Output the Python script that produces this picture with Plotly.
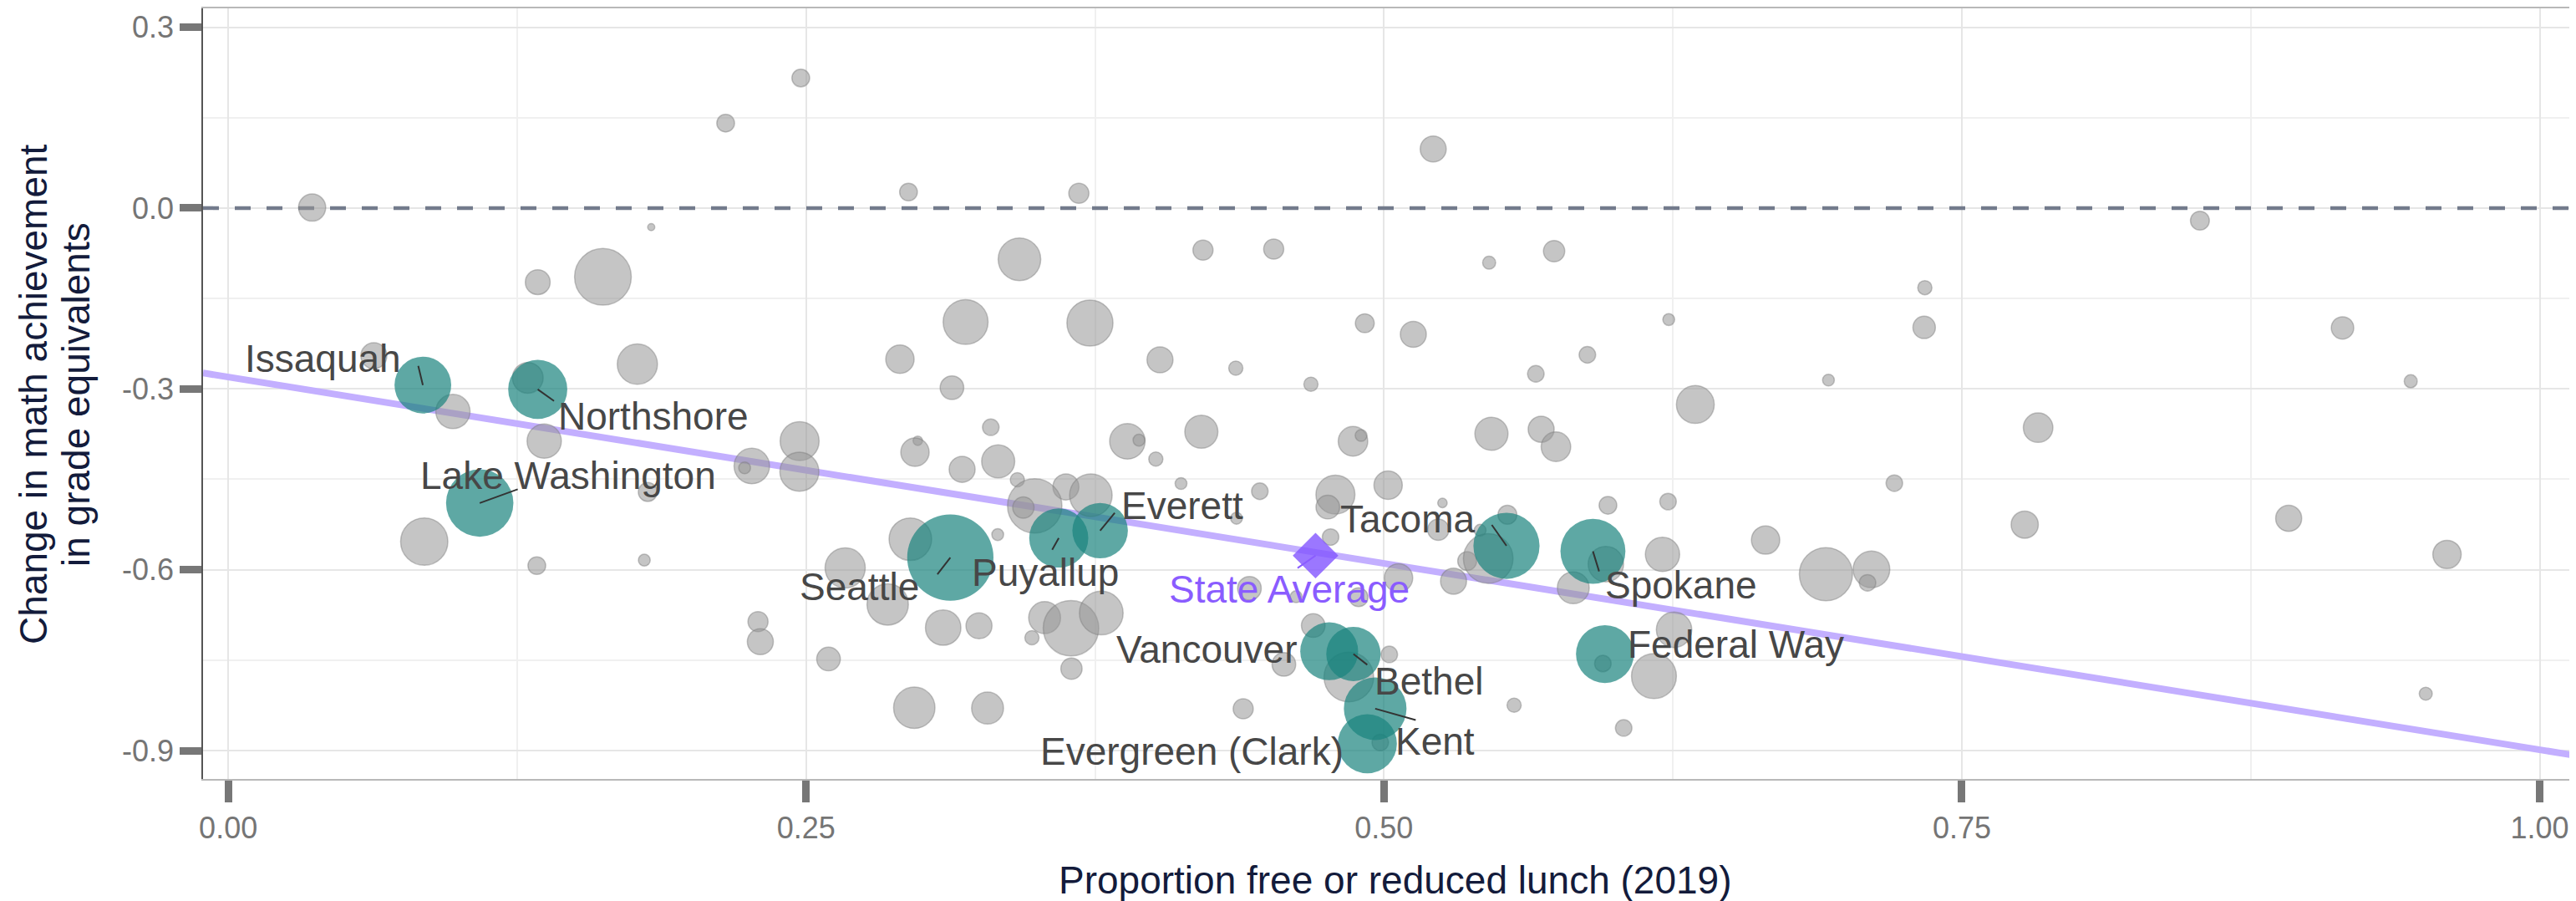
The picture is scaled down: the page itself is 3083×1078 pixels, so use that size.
import plotly.graph_objects as go

# ---------------- data ----------------
# grey districts: proportion FRL, change in grade equivalents, enrollment (thousands)
frl = [0.0363, 0.183, 0.1621, 0.1339, 0.0630, 0.0972, 0.1296, 0.177, 0.1367, 0.0848,
       0.1335, 0.1800, 0.1815, 0.2152, 0.2477, 0.2943, 0.368, 0.5213, 0.3423, 0.4217,
       0.4523, 0.5455, 0.5736, 0.319, 0.3728, 0.4917, 0.5127, 0.2906, 0.4031, 0.4359,
       0.4684, 0.5657, 0.588, 0.3131, 0.3299, 0.2472, 0.2983, 0.389, 0.394, 0.421,
       0.4866, 0.4901, 0.5465, 0.568, 0.5744, 0.2971, 0.3331, 0.3175, 0.3414, 0.4013,
       0.4122, 0.4463, 0.2471, 0.2265, 0.2234, 0.3624, 0.3732, 0.3489, 0.344, 0.4362,
       0.2951, 0.3329, 0.2669, 0.2853, 0.2292, 0.2302, 0.2597, 0.3093, 0.3248, 0.3532,
       0.3646, 0.3777, 0.3477, 0.3648, 0.2968, 0.3285, 0.4391, 0.4694, 0.4567, 0.4418,
       0.462, 0.6923, 0.6347, 0.5018, 0.479, 0.4757, 0.4769, 0.5253, 0.5534, 0.5235,
       0.5416, 0.536, 0.5451, 0.5969, 0.6229, 0.7208, 0.6651, 0.6205, 0.596, 0.5819,
       0.6912, 0.7109, 0.7092, 0.5301, 0.5063, 0.489, 0.4848, 0.5023, 0.5563, 0.6037,
       0.4984, 0.6255, 0.5947, 0.6168, 0.6232, 0.853, 0.734, 0.7337, 0.9147, 0.9442,
       0.783, 0.7772, 0.8914, 0.9599, 0.9507]
change = [0.0008, -0.0316, -0.114, -0.123, -0.245, -0.3375, -0.2817, -0.2589, -0.3866, -0.5533,
          -0.5932, -0.584, -0.471, 0.1409, 0.2157, 0.0266, 0.0246, 0.098, -0.085, -0.0697,
          -0.068, -0.0906, -0.0716, -0.189, -0.1907, -0.191, -0.2094, -0.2507, -0.2517, -0.2655,
          -0.2922, -0.275, -0.2434, -0.298, -0.3636, -0.3866, -0.386, -0.387, -0.385, -0.371,
          -0.387, -0.3773, -0.3744, -0.367, -0.396, -0.405, -0.4202, -0.4335, -0.4507, -0.4164,
          -0.4569, -0.4698, -0.4374, -0.4279, -0.431, -0.4626, -0.4764, -0.494, -0.4969, -0.5146,
          -0.5493, -0.5417, -0.597, -0.6575, -0.686, -0.7194, -0.748, -0.696, -0.693, -0.6794,
          -0.697, -0.6718, -0.7127, -0.7642, -0.829, -0.8295, -0.8305, -0.6926, -0.757, -0.6308,
          -0.6447, -0.2853, -0.3258, -0.4598, -0.4753, -0.496, -0.5458, -0.4892, -0.5088, -0.5335,
          -0.5345, -0.5856, -0.5813, -0.4931, -0.4869, -0.4563, -0.5507, -0.5745, -0.5907, -0.6299,
          -0.6074, -0.5993, -0.6217, -0.619, -0.6137, -0.6455, -0.778, -0.7404, -0.8247, -0.8624,
          -0.8866, -0.6995, -0.7556, -0.7765, -0.185, -0.0209, -0.132, -0.1979, -0.1988, -0.2873,
          -0.3643, -0.5251, -0.5147, -0.5746, -0.8057]
enroll = [5.29, 0.36, 23.04, 4.41, 4.84, 8.41, 6.76, 11.56, 8.41, 16.0,
          2.25, 1.0, 2.56, 2.25, 2.25, 2.25, 2.89, 4.84, 12.96, 2.89,
          2.89, 1.21, 3.24, 14.44, 15.21, 2.56, 4.84, 5.76, 4.84, 1.44,
          1.44, 1.96, 1.96, 4.0, 1.96, 10.89, 0.64, 9.0, 1.0, 7.84,
          6.25, 1.0, 7.84, 4.84, 6.25, 5.76, 7.84, 4.84, 1.44, 1.44,
          1.0, 1.96, 10.89, 9.0, 1.0, 4.84, 12.96, 21.16, 3.24, 1.0,
          12.96, 1.0, 11.56, 12.25, 2.89, 4.84, 4.0, 9.0, 4.84, 7.29,
          22.09, 13.69, 1.44, 3.24, 12.25, 7.29, 2.89, 4.0, 4.0, 4.0,
          1.0, 1.0, 10.24, 5.76, 10.89, 4.0, 1.96, 0.64, 2.56, 3.24,
          1.0, 2.56, 17.64, 2.25, 1.96, 1.96, 5.76, 8.41, 9.0, 7.29,
          20.25, 9.61, 1.96, 4.84, 5.76, 2.56, 17.64, 1.96, 1.44, 1.96,
          1.96, 9.0, 1.96, 14.44, 1.0, 2.56, 1.44, 3.61, 3.61, 1.21,
          6.25, 5.29, 4.84, 5.76, 1.21]

# highlighted districts
dist_names = ["Issaquah", "Northshore", "Lake Washington", "Seattle", "Puyallup", "Everett",
              "Tacoma", "Spokane", "Vancouver", "Bethel", "Kent", "Evergreen (Clark)", "Federal Way"]
dist_frl = [0.0842, 0.1339, 0.1088, 0.3124, 0.3593, 0.3772, 0.553, 0.5904, 0.4763, 0.4868,
            0.4962, 0.4928, 0.5956]
dist_change = [-0.2936, -0.3008, -0.4893, -0.5798, -0.5474, -0.5351, -0.5603, -0.5694, -0.7352,
               -0.7399, -0.8305, -0.8886, -0.7399]
dist_enroll = [23.04, 25.0, 32.49, 53.29, 25.0, 22.09, 31.36, 30.25, 24.01, 21.16, 28.09, 25.0, 24.01]

state_label = "State Average"
state_frl = [0.4704]
state_change = [-0.5765]

trend_x = [-0.0109, 1.0157]
trend_y = [-0.2736, -0.9083]

x_ticks = [0.0, 0.25, 0.5, 0.75, 1.0]
x_ticktext = ["0.00", "0.25", "0.50", "0.75", "1.00"]
y_ticks = [-0.9, -0.6, -0.3, 0.0, 0.3]
y_ticktext = ["-0.9", "-0.6", "-0.3", "0.0", "0.3"]

x_title = "Proportion free or reduced lunch (2019)"
y_title_lines = ["Change in math achievement", "in grade equivalents"]

# ---------------- layout / style ----------------
FONT = "Liberation Sans, Arial, Helvetica, sans-serif"
OFF = 8                      # page body margin of the html page
W, H = 3083 - OFF, 1078 - OFF
ML, MR, MT = 243 - OFF, 0, 8 - OFF
PW, PH = 2840, 924
MB = H - MT - PH
XR = [-0.0109, 1.0157]
YR = [-0.9471, 0.3313]

# label placement: text offset (px from point centre), segment end offset (px) or None
label_pos = {
    "Issaquah": (-120, -32, (-6, -25)),
    "Northshore": (138, 32, (21, 15)),
    "Lake Washington": (106, -33, (47, -17)),
    "Seattle": (-109, 35, (-17, 22)),
    "Puyallup": (-16, 41, (-9, 16)),
    "Everett": (98, -30, (19, -23)),
    "Tacoma": (-118, -32, (-19, -27)),
    "Spokane": (106, 40, (8, 26)),
    "Vancouver": (-146, -2, None),
    "Bethel": (90, 32, (18, 14)),
    "Kent": (72, 39, (50, 14)),
    "Evergreen (Clark)": (-210, 9, None),
    "Federal Way": (157, -12, None),
}
state_pos = (-31, 40, (-23, 16))

fig = go.Figure()

# zero reference line
fig.add_trace(go.Scatter(x=XR, y=[0, 0], mode="lines",
                         line=dict(color="#737b8c", width=4.5, dash="19px,19px"),
                         hoverinfo="skip", showlegend=False))
# trend line
fig.add_trace(go.Scatter(x=trend_x, y=trend_y, mode="lines",
                         line=dict(color="#c3afff", width=8),
                         hoverinfo="skip", showlegend=False))
# grey districts
fig.add_trace(go.Scatter(x=frl, y=change, mode="markers",
                         marker=dict(size=enroll, sizemode="area", sizeref=0.01, opacity=1,
                                     color="rgba(150,150,150,0.55)",
                                     line=dict(color="rgba(125,125,125,0.45)", width=1.5)),
                         showlegend=False))
# highlighted districts
fig.add_trace(go.Scatter(x=dist_frl, y=dist_change, mode="markers", text=dist_names,
                         marker=dict(size=dist_enroll, sizemode="area", sizeref=0.01, opacity=1,
                                     color="rgba(26,131,126,0.7)", line=dict(width=0)),
                         showlegend=False))
# state average
fig.add_trace(go.Scatter(x=state_frl, y=state_change, mode="markers",
                         marker=dict(symbol="diamond", size=42, opacity=1,
                                     color="rgba(130,85,255,0.8)", line=dict(width=0)),
                         showlegend=False))

annotations = []
def add_label(name, px, py, pos, color, segcolor):
    dx, dy, seg = pos
    if seg is not None:
        annotations.append(dict(x=px, y=py, xref="x", yref="y", text=" ",
                                font=dict(size=1), showarrow=True, arrowhead=0,
                                arrowwidth=2, arrowcolor=segcolor, standoff=0,
                                startstandoff=0, ax=seg[0], ay=seg[1]))
    annotations.append(dict(x=px, y=py, xref="x", yref="y", text=name, showarrow=False,
                            xshift=dx, yshift=-dy, xanchor="center", yanchor="middle",
                            font=dict(family=FONT, size=46, color=color)))

for n, xv, yv in zip(dist_names, dist_frl, dist_change):
    add_label(n, xv, yv, label_pos[n], "#474747", "#333333")
add_label(state_label, state_frl[0], state_change[0], state_pos, "#8a5cff", "#8a5cff")

# axis titles (positions given in page pixels, converted to paper units)
def px_x(p):
    return (p - OFF - ML) / PW
def px_y(p):
    return (MT + PH - (p - OFF)) / PH

annotations.append(dict(xref="paper", yref="paper", x=px_x(1669), y=px_y(1053),
                        text=x_title, showarrow=False, xanchor="center", yanchor="middle",
                        font=dict(family=FONT, size=46, color="#131b3b")))
for txt, cx in zip(y_title_lines, [40, 91]):
    annotations.append(dict(xref="paper", yref="paper", x=px_x(cx), y=px_y(471),
                            text=txt, textangle=-90, showarrow=False,
                            xanchor="center", yanchor="middle",
                            font=dict(family=FONT, size=46, color="#131b3b")))

fig.update_layout(
    width=W, height=H,
    margin=dict(l=ML, r=MR, t=MT, b=MB, pad=0),
    paper_bgcolor="white", plot_bgcolor="white",
    font=dict(family=FONT),
    annotations=annotations,
    xaxis=dict(range=XR, tickvals=x_ticks, ticktext=x_ticktext,
               showgrid=True, gridcolor="#e6e6e6", gridwidth=2,
               minor=dict(tickvals=[0.125, 0.375, 0.625, 0.875], showgrid=True,
                          gridcolor="#f0f0f0", gridwidth=1.5, ticks=""),
               zeroline=False, showline=True, linecolor="#b8b8b8", linewidth=2, mirror=True,
               ticks="outside", ticklen=26, tickwidth=9, tickcolor="#777777",
               tickfont=dict(family=FONT, size=36, color="#757575")),
    yaxis=dict(range=YR, tickvals=y_ticks, ticktext=y_ticktext,
               showgrid=True, gridcolor="#e6e6e6", gridwidth=2,
               minor=dict(tickvals=[-0.75, -0.45, -0.15, 0.15], showgrid=True,
                          gridcolor="#f0f0f0", gridwidth=1.5, ticks=""),
               zeroline=False, showline=True, linecolor="#555555", linewidth=1.5, mirror=False,
               ticks="outside", ticklen=26, tickwidth=9, tickcolor="#777777",
               tickfont=dict(family=FONT, size=36, color="#757575")),
)

fig.write_html("out.html")
